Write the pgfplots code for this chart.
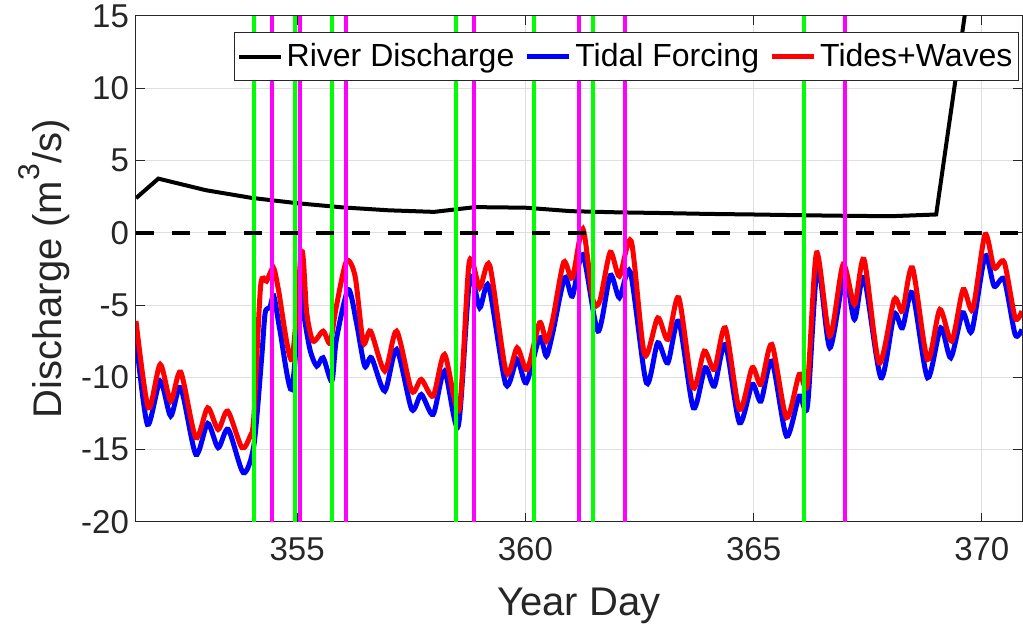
\documentclass[border=0pt]{standalone}
\usepackage{fontspec}
\setmainfont{Liberation Sans}
\usepackage{pgfplots}
\pgfplotsset{compat=1.18}
\definecolor{axgray}{RGB}{38,38,38}
\definecolor{gridgray}{RGB}{223,223,223}
\definecolor{mgreen}{RGB}{0,255,0}
\definecolor{mmag}{RGB}{255,0,255}

% river discharge (black)
\pgfplotstableread{
d q
351.47 2.40
351.96 3.75
353.00 2.95
354.00 2.42
355.00 2.05
356.00 1.76
357.00 1.56
358.00 1.45
358.90 1.78
360.00 1.74
361.00 1.50
362.00 1.42
363.00 1.37
364.00 1.31
365.00 1.27
366.00 1.22
367.00 1.18
368.00 1.15
369.00 1.27
370.00 23.30
}\river

% tidal forcing (blue)
\pgfplotstableread{
d q
351.47 -7.26
351.72 -13.25
352.00 -10.25
352.23 -12.67
352.45 -10.71
352.78 -15.32
353.04 -13.18
353.27 -14.86
353.49 -13.59
353.82 -16.59
354.05 -14.75
354.22 -8.76
354.30 -5.53
354.40 -5.18
354.49 -4.38
354.62 -6.68
354.88 -10.83
355.08 -3.60
355.13 -5.30
355.28 -8.06
355.43 -9.22
355.57 -8.64
355.76 -10.25
355.86 -7.37
356.12 -3.92
356.30 -6.22
356.48 -9.22
356.63 -8.64
356.92 -10.94
357.18 -8.06
357.51 -12.21
357.72 -11.18
357.98 -12.56
358.23 -9.56
358.53 -13.36
358.78 -3.23
359.00 -5.18
359.20 -3.69
359.57 -10.48
359.82 -8.76
360.02 -10.37
360.31 -7.26
360.46 -8.53
360.60 -6.91
360.86 -3.11
361.03 -4.38
361.26 -1.50
361.59 -6.80
361.86 -2.95
362.06 -4.49
362.30 -2.72
362.65 -10.37
362.90 -7.60
363.12 -8.99
363.36 -6.11
363.68 -12.10
363.94 -9.33
364.14 -10.60
364.38 -7.72
364.69 -13.13
364.97 -10.48
365.16 -11.64
365.40 -8.87
365.72 -14.06
366.00 -11.29
366.18 -11.98
366.40 -2.30
366.67 -7.95
366.99 -2.95
367.21 -5.99
367.42 -3.11
367.79 -10.02
368.08 -5.65
368.26 -6.57
368.48 -4.15
368.81 -10.02
369.10 -6.57
369.32 -8.64
369.58 -5.53
369.78 -6.80
370.07 -1.61
370.27 -3.69
370.49 -3.23
370.73 -7.03
370.88 -6.68
}\tidal

% tides + waves (red)
\pgfplotstableread{
d q
351.47 -6.10
351.74 -12.10
352.00 -9.10
352.23 -11.64
352.45 -9.63
352.78 -14.17
353.04 -12.10
353.27 -13.60
353.48 -12.33
353.79 -14.86
353.97 -14.06
354.05 -12.80
354.20 -3.69
354.33 -3.34
354.48 -2.42
354.59 -3.92
354.88 -8.76
355.10 -1.27
355.21 -5.53
355.35 -7.49
355.57 -6.80
355.72 -7.60
355.86 -5.07
356.08 -1.96
356.27 -3.00
356.45 -7.60
356.61 -6.80
356.92 -9.56
357.18 -6.80
357.51 -10.94
357.72 -10.14
357.98 -11.29
358.23 -8.41
358.55 -12.21
358.77 -2.03
359.00 -3.80
359.22 -2.26
359.58 -9.63
359.82 -7.95
360.04 -9.45
360.31 -6.22
360.46 -7.49
360.60 -5.99
360.84 -2.03
361.03 -3.11
361.26 0.28
361.48 -4.61
361.63 -4.72
361.86 -1.34
362.06 -3.00
362.32 -0.58
362.61 -8.41
362.90 -5.88
363.12 -7.37
363.36 -4.49
363.67 -10.71
363.92 -8.18
364.14 -9.45
364.38 -6.57
364.69 -12.21
364.97 -9.33
365.16 -10.48
365.40 -7.72
365.72 -12.79
366.00 -9.79
366.18 -10.48
366.38 -1.38
366.67 -7.14
366.96 -2.19
367.21 -4.95
367.42 -1.84
367.75 -8.99
368.08 -4.61
368.26 -5.41
368.48 -2.42
368.81 -8.76
369.08 -5.30
369.34 -7.49
369.59 -3.92
369.80 -5.30
370.07 -0.12
370.27 -2.42
370.49 -2.03
370.73 -5.88
370.88 -5.41
}\waves

\begin{document}
\begin{tikzpicture}
\begin{axis}[
  name=ax,
  scale only axis,
  width=443pt, height=253pt,
  xmin=351.47, xmax=370.88,
  ymin=-20, ymax=15,
  xtick={355,360,365,370},
  ytick={-20,-15,...,15},
  grid=major,
  major grid style={gridgray, line width=0.5pt},
  axis line style={axgray, line width=0.5pt},
  tick style={axgray, line width=0.5pt},
  tick align=inside,
  major tick length=4.5pt,
  /pgf/number format/assume math mode=true,
  /pgf/number format/1000 sep={},
  tick label style={font=\fontsize{16.5}{18}\selectfont, text=axgray},
  xticklabel style={yshift=-4pt},
  xlabel={Year Day},
  ylabel={Discharge (m\raisebox{0.55em}{\fontsize{15}{15}\selectfont 3}/s)},
  xlabel style={font=\fontsize{20}{22}\selectfont, text=axgray,
    at={(rel axis cs:0.5,0)}, anchor=center, yshift=-42pt},
  ylabel style={font=\fontsize{20}{22}\selectfont, text=axgray,
    at={(rel axis cs:0,0.5)}, anchor=center, rotate=0, yshift=46pt},
  legend columns=3,
  legend style={at={(rel axis cs:1,1)}, anchor=north east,
    xshift=-1.5pt, yshift=-8pt,
    draw=axgray, line width=0.5pt,
    font=\fontsize{16}{18}\selectfont, text=black,
    inner xsep=1pt, inner ysep=3.5pt,
    /tikz/every even column/.append style={column sep=3pt}},
  legend image code/.code={\draw[#1] (0pt,0pt) -- (21pt,0pt);},
  legend cell align=left,
]
\addplot[black, line width=2pt] table[x=d, y=q] {\river};
\addlegendentry{River Discharge}
\addplot[blue, line width=2.5pt, smooth, tension=0.45] table[x=d, y=q] {\tidal};
\addlegendentry{Tidal Forcing}
\addplot[red, line width=2.5pt, smooth, tension=0.45] table[x=d, y=q] {\waves};
\addlegendentry{Tides+Waves}

% event lines
\addplot[mgreen, line width=2pt, forget plot] coordinates {(354.06,-20) (354.06,15)};
\addplot[mgreen, line width=2pt, forget plot] coordinates {(354.95,-20) (354.95,15)};
\addplot[mgreen, line width=2pt, forget plot] coordinates {(355.77,-20) (355.77,15)};
\addplot[mgreen, line width=2pt, forget plot] coordinates {(358.47,-20) (358.47,15)};
\addplot[mgreen, line width=2pt, forget plot] coordinates {(360.18,-20) (360.18,15)};
\addplot[mgreen, line width=2pt, forget plot] coordinates {(361.48,-20) (361.48,15)};
\addplot[mgreen, line width=2pt, forget plot] coordinates {(366.10,-20) (366.10,15)};
\addplot[mmag, line width=2pt, forget plot] coordinates {(354.46,-20) (354.46,15)};
\addplot[mmag, line width=2pt, forget plot] coordinates {(355.06,-20) (355.06,15)};
\addplot[mmag, line width=2pt, forget plot] coordinates {(356.06,-20) (356.06,15)};
\addplot[mmag, line width=2pt, forget plot] coordinates {(358.87,-20) (358.87,15)};
\addplot[mmag, line width=2pt, forget plot] coordinates {(361.18,-20) (361.18,15)};
\addplot[mmag, line width=2pt, forget plot] coordinates {(362.19,-20) (362.19,15)};
\addplot[mmag, line width=2pt, forget plot] coordinates {(367.00,-20) (367.00,15)};

% zero line
\addplot[black, line width=2pt, dash pattern=on 9pt off 9pt, forget plot]
  coordinates {(351.47,0) (370.88,0)};
\end{axis}
\pgfresetboundingbox
\path[use as bounding box] ([xshift=-68pt,yshift=-54pt]ax.south west)
  rectangle ([xshift=0.5pt,yshift=8pt]ax.north east);
\end{tikzpicture}
\end{document}
